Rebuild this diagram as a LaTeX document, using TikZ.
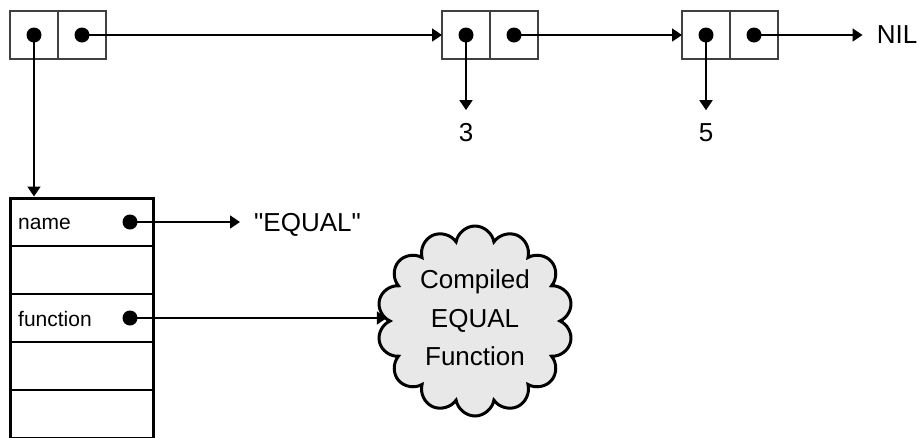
\documentclass[tikz,border=0pt]{standalone}
\usepackage{fontspec}
\setmainfont{Liberation Sans}
\newfontfamily\plainfont{Liberation Sans}
\usetikzlibrary{arrows.meta,shapes.symbols}
\newcommand\bigtxt{\fontsize{26}{38.5}\selectfont}
\newcommand\smalltxt{\fontsize{21}{25}\selectfont}
\begin{document}
\begin{tikzpicture}[x=1pt,y=-1pt,
  half/.style={draw=black!75,line width=1.1pt,minimum width=48pt,minimum height=48pt,inner sep=0pt,outer sep=0pt},
  dot/.style={circle,fill=black,inner sep=0pt,minimum size=15pt},
  arr/.style={line width=1.6pt,-{Triangle[length=10pt,width=13pt]}},
  rowbox/.style={draw=black,line width=1.5pt,minimum width=143pt,minimum height=48pt,inner sep=0pt,outer sep=0pt},
  big/.style={font=\bigtxt,inner sep=0pt},
  small/.style={font=\smalltxt,inner sep=0pt}]
\useasboundingbox (0,0) rectangle (924,437);
% cons cells
\node[half] (c1a) at (34,35) {};
\node[half] (c1b) at (82,35) {};
\node[half] (c2a) at (466,35) {};
\node[half] (c2b) at (514,35) {};
\node[half] (c3a) at (706,35) {};
\node[half] (c3b) at (754,35) {};
\node[dot] (d1a) at (c1a) {};
\node[dot] (d1b) at (c1b) {};
\node[dot] (d2a) at (c2a) {};
\node[dot] (d2b) at (c2b) {};
\node[dot] (d3a) at (c3a) {};
\node[dot] (d3b) at (c3b) {};
% texts
\node[big] (nil) at (897,35) {NIL};
\node[big] (three) at (466,133) {3};
\node[big] (five) at (706,133) {5};
% structure
\node[rowbox] (r1) at (81.5,222) {};
\node[rowbox] (r2) at (81.5,270) {};
\node[rowbox] (r3) at (81.5,318) {};
\node[rowbox] (r4) at (81.5,366) {};
\node[rowbox] (r5) at (81.5,414) {};
\node[draw=black,line width=3pt,minimum width=143pt,minimum height=240pt,inner sep=0pt] (struct) at (81.5,318) {};
\node[small,anchor=base west] (lname) at (18,229) {name};
\node[small,anchor=base west] (lfun) at (18,326) {function};
\node[dot] (dname) at (130,222) {};
\node[dot] (dfun) at (130,318) {};
\node[big,anchor=base west] (equal) at (254,231) {\plainfont "EQUAL"};
% cloud
\node[cloud,cloud puffs=14,cloud puff arc=160,cloud ignores aspect,draw=black,line width=3pt,fill=gray!18,
  minimum width=196pt,minimum height=190pt,inner sep=0pt] (cloud) at (475,321) {};
\node[big,align=center] (ctext) at (475,318) {Compiled\\EQUAL\\Function};
% connectors
\draw[arr] (d1b.center) -- (c2a.west);
\draw[arr] (d2b.center) -- (c3a.west);
\draw[arr] (d3b.center) -- ([xshift=-14pt]nil.west);
\draw[arr] (d2a.center) -- ([yshift=13.5pt]three.north);
\draw[arr] (d3a.center) -- ([yshift=13.5pt]five.north);
\draw[arr] (d1a.center) -- (struct.north -| d1a);
\draw[arr] (dname.center) -- ([xshift=-14pt]equal.west |- dname);
\draw[arr] (dfun.center) -- (dfun -| cloud.west);
\end{tikzpicture}
\end{document}
